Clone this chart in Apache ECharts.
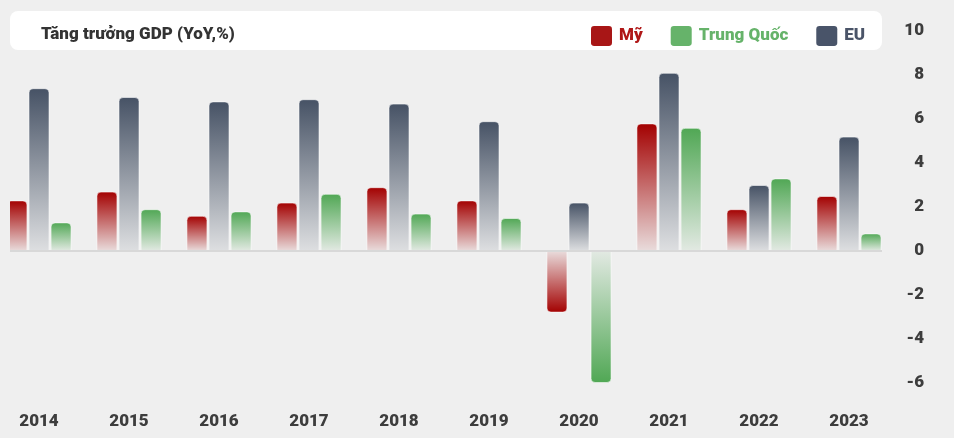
<!DOCTYPE html>
<html>
<head>
<meta charset="utf-8">
<script src="https://cdn.jsdelivr.net/npm/echarts@6/dist/echarts.min.js"></script>
<style>
html,body{margin:0;padding:0;background:#efefef;}
#c{width:954px;height:438px;}
</style>
</head>
<body>
<div id="c"></div>
<script>
const years = ['2014','2015','2016','2017','2018','2019','2020','2021','2022','2023'];
const seriesNames = ['Mỹ','EU','Trung Quốc'];
const valuesMy = [2.3, 2.7, 1.6, 2.2, 2.9, 2.3, -2.8, 5.8, 1.9, 2.5];
const valuesEU = [7.4, 7.0, 6.8, 6.9, 6.7, 5.9, 2.2, 8.1, 3.0, 5.2];
const valuesTQ = [1.3, 1.9, 1.8, 2.6, 1.7, 1.5, -6.0, 5.6, 3.3, 0.8];
const legendOrder = ['Mỹ','Trung Quốc','EU'];
const yTicks = {min: -6, max: 10, interval: 2};

const FONT = 'Roboto';
const WEIGHT = 900;
const palette = {
  'Mỹ': {top: 'rgba(163,0,0,1)', bottom: 'rgba(163,0,0,0.08)', legend: '#a81616', text: '#b01818'},
  'EU': {top: 'rgba(70,82,101,1)', bottom: 'rgba(70,82,101,0.10)', legend: '#495469', text: '#4a5468'},
  'Trung Quốc': {top: 'rgba(80,167,84,1)', bottom: 'rgba(80,167,84,0.08)', legend: '#66b36a', text: '#66b36a'}
};

function grad(c, neg) {
  return {
    type: 'linear', x: 0, y: 0, x2: 0, y2: 1,
    colorStops: neg
      ? [{offset: 0, color: c.bottom}, {offset: 1, color: c.top}]
      : [{offset: 0, color: c.top}, {offset: 1, color: c.bottom}]
  };
}

function buildData(name, vals) {
  const c = palette[name];
  return vals.map(v => ({
    value: v,
    itemStyle: {
      color: grad(c, v < 0),
      borderRadius: v < 0 ? [0, 0, 4, 4] : [4, 4, 0, 0]
    }
  }));
}

const allVals = {'Mỹ': valuesMy, 'EU': valuesEU, 'Trung Quốc': valuesTQ};

const series = seriesNames.map((n, i) => ({
  name: n,
  type: 'bar',
  barWidth: 21,
  barGap: '5%',
  data: buildData(n, allVals[n]),
  itemStyle: {borderColor: 'rgba(255,255,255,0.55)', borderWidth: 1, color: palette[n].legend},
  emphasis: {disabled: true},
  markLine: i === 0 ? {
    silent: true, symbol: 'none', animation: false,
    label: {show: false},
    lineStyle: {color: '#d8d8d8', width: 2, type: 'solid'},
    data: [{yAxis: 0}]
  } : undefined
}));

const legendIcon = 'path://M3,0H17Q20,0 20,3V16Q20,19 17,19H3Q0,19 0,16V3Q0,0 3,0Z';

const chart = echarts.init(document.getElementById('c'), null, {renderer: 'canvas'});
chart.setOption({
  animation: false,
  backgroundColor: '#efefef',
  textStyle: {fontFamily: FONT},
  graphic: [
    {type: 'rect', shape: {x: 10, y: 11, width: 872, height: 39, r: 8}, style: {fill: '#ffffff'}, z: 0, silent: true},
    {type: 'rect', shape: {x: 0, y: 52, width: 10, height: 340}, style: {fill: '#efefef'}, z: 100, silent: true},
    {type: 'rect', shape: {x: 882, y: 245, width: 14, height: 12}, style: {fill: '#efefef'}, z: 100, silent: true}
  ],
  title: {
    text: 'Tăng trưởng GDP (YoY,%)',
    left: 36, top: 21,
    textStyle: {fontFamily: FONT, fontSize: 17, fontWeight: WEIGHT, color: '#333333'}
  },
  legend: {
    left: 586, top: 21,
    itemWidth: 21, itemHeight: 20, itemGap: 28,
    icon: legendIcon,
    selectedMode: false,
    data: legendOrder.map(n => ({
      name: n,
      itemStyle: {color: palette[n].legend, borderWidth: 0},
      textStyle: {color: palette[n].text}
    })),
    textStyle: {fontFamily: FONT, fontSize: 17, fontWeight: WEIGHT, padding: [0, 0, 0, 2]}
  },
  grid: {left: -6, right: 60, top: 31, bottom: 55, containLabel: false, outerBoundsMode: 'none'},
  xAxis: {
    type: 'category',
    data: years,
    axisLine: {show: false},
    axisTick: {show: false},
    splitLine: {show: false},
    axisLabel: {margin: 30, fontFamily: FONT, fontSize: 17, fontWeight: WEIGHT, color: '#3d3d3d'}
  },
  yAxis: {
    type: 'value',
    position: 'right',
    min: yTicks.min, max: yTicks.max, interval: yTicks.interval,
    axisLine: {show: false},
    axisTick: {show: false},
    splitLine: {show: false},
    axisLabel: {align: 'right', margin: 30, fontFamily: FONT, fontSize: 17, fontWeight: WEIGHT, color: '#3d3d3d'}
  },
  series: series
});
</script>
</body>
</html>
